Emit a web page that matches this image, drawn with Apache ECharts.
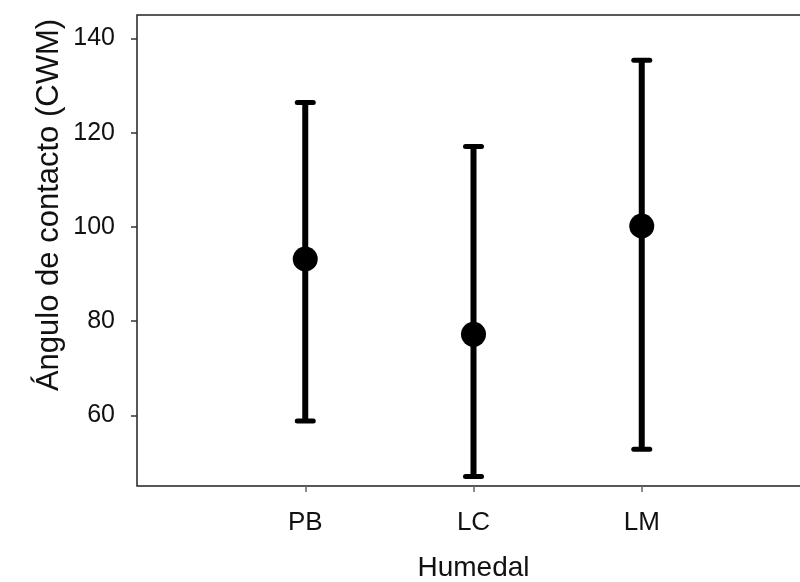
<!DOCTYPE html>
<html>
<head>
<meta charset="utf-8">
<script src="https://cdn.jsdelivr.net/npm/echarts@6/dist/echarts.min.js"></script>
<style>
  html, body { margin: 0; padding: 0; background: #fff; }
  #chart { width: 800px; height: 582px; }
</style>
</head>
<body>
<div id="chart"></div>
<script>
// Wetland sites and contact-angle summary (CWM): mean with lower/upper bounds
const categories = ['PB', 'LC', 'LM'];
const means = [93.2, 77.2, 100.2];
const lower = [58.8, 47.0, 52.8];
const upper = [126.4, 117.1, 135.4];
const yTicks = [60, 80, 100, 120, 140];

const FONT = '"Liberation Sans", Arial, sans-serif';

const positions = categories.map((_, i) => i + 1);
const barData = positions.map((x, i) => [x, lower[i], upper[i]]);
const pointData = positions.map((x, i) => [x, means[i]]);

const chart = echarts.init(document.getElementById('chart'), null, { renderer: 'canvas' });

chart.setOption({
  backgroundColor: '#ffffff',
  animation: false,
  grid: {
    left: 137, top: 15, width: 673, height: 471,
    outerBoundsMode: 'none',
    containLabel: false,
    show: true, borderColor: '#222', borderWidth: 1.5, backgroundColor: 'transparent'
  },
  xAxis: {
    type: 'value',
    min: 0, max: categories.length + 1,
    name: 'Humedal',
    nameLocation: 'middle',
    nameGap: 68,
    nameTextStyle: { fontFamily: FONT, fontSize: 28, color: '#111' },
    splitLine: { show: false },
    axisLine: { show: false },
    axisTick: { show: true, customValues: positions, length: 6, inside: false,
                lineStyle: { color: '#666', width: 1.5 } },
    axisLabel: {
      customValues: positions,
      margin: 24,
      fontFamily: FONT, fontSize: 26, color: '#111',
      formatter: v => categories[Math.round(v) - 1] || ''
    }
  },
  yAxis: {
    type: 'value',
    min: 45, max: 145,
    splitLine: { show: false },
    axisLine: { show: false },
    axisTick: { show: true, customValues: yTicks, length: 6, inside: false,
                lineStyle: { color: '#333', width: 1.5 } },
    axisLabel: {
      customValues: yTicks,
      margin: 22,
      fontFamily: FONT, fontSize: 25, color: '#111'
    }
  },
  graphic: [{
    type: 'text',
    x: 49, y: 205,
    rotation: Math.PI / 2,
    style: {
      text: 'Ángulo de contacto (CWM)',
      font: '31px ' + FONT,
      fill: '#111',
      align: 'center',
      verticalAlign: 'middle'
    }
  }],
  series: [
    {
      type: 'custom',
      data: barData,
      z: 2,
      renderItem: (params, api) => {
        const x = api.value(0);
        const lo = api.coord([x, api.value(1)]);
        const hi = api.coord([x, api.value(2)]);
        const half = 8;
        const stemStyle = { stroke: '#000', lineWidth: 6 };
        const capStyle = { stroke: '#000', lineWidth: 5, lineCap: 'round' };
        return {
          type: 'group',
          children: [
            { type: 'line', shape: { x1: lo[0], y1: lo[1], x2: hi[0], y2: hi[1] }, style: stemStyle },
            { type: 'line', shape: { x1: hi[0] - half, y1: hi[1], x2: hi[0] + half, y2: hi[1] }, style: capStyle },
            { type: 'line', shape: { x1: lo[0] - half, y1: lo[1], x2: lo[0] + half, y2: lo[1] }, style: capStyle }
          ]
        };
      }
    },
    {
      type: 'scatter',
      data: pointData,
      z: 3,
      symbol: 'circle',
      symbolSize: 25,
      itemStyle: { color: '#000', opacity: 1 }
    }
  ]
});
</script>
</body>
</html>
